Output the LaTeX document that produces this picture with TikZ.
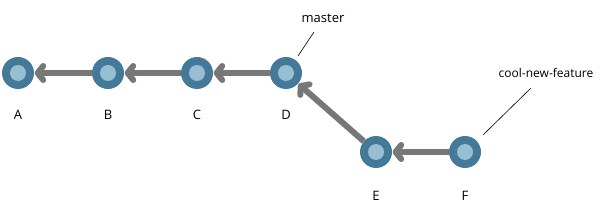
\documentclass[tikz,border=0pt]{standalone}
\usepackage{fontspec}
\setmainfont{Open Sans}
\usetikzlibrary{arrows.meta}
\definecolor{ring}{HTML}{44799A}
\definecolor{core}{HTML}{98BED3}
\definecolor{edge}{HTML}{777777}
\tikzset{
  commit/.style={circle,fill=ring,minimum size=32pt,inner sep=0pt,
    path picture={\fill[core] (path picture bounding box.center) circle (8pt);}},
  parent/.style={draw=edge,line width=6pt,
    -{Straight Barb[round,length=5.5pt,width=14pt]},shorten >=0.5pt},
  lbl/.style={font=\fontsize{13pt}{15pt}\selectfont,inner sep=0pt},
  ref/.style={draw=black,line width=0.6pt},
}
\begin{document}
\begin{tikzpicture}[x=1pt,y=-1pt]
\useasboundingbox (0,0) rectangle (602,216);
\node[commit] (A) at (18,73) {};
\node[commit] (B) at (108,73) {};
\node[commit] (C) at (197,73) {};
\node[commit] (D) at (286,73) {};
\node[commit] (E) at (376,152) {};
\node[commit] (F) at (465,152) {};
\node[lbl] (lA) at (18,115) {A};
\node[lbl] (lB) at (108,115) {B};
\node[lbl] (lC) at (197,115) {C};
\node[lbl] (lD) at (286,115) {D};
\node[lbl] (lE) at (376,196) {E};
\node[lbl] (lF) at (465,196) {F};
\draw[parent] (B) -- (A);
\draw[parent] (C) -- (B);
\draw[parent] (D) -- (C);
\draw[parent] (E) -- (D);
\draw[parent] (F) -- (E);
\node[lbl] (master) at (323,18) {master};
\node[lbl,font=\fontsize{12pt}{14pt}\selectfont] (cnf) at (546,73) {cool-new-feature};
\coordinate (m1) at (298,56);
\coordinate (m2) at (314,32);
\coordinate (c1) at (483,135);
\coordinate (c2) at (531,88);
\draw[ref] (m1) -- (m2);
\draw[ref] (c1) -- (c2);
\end{tikzpicture}
\end{document}
